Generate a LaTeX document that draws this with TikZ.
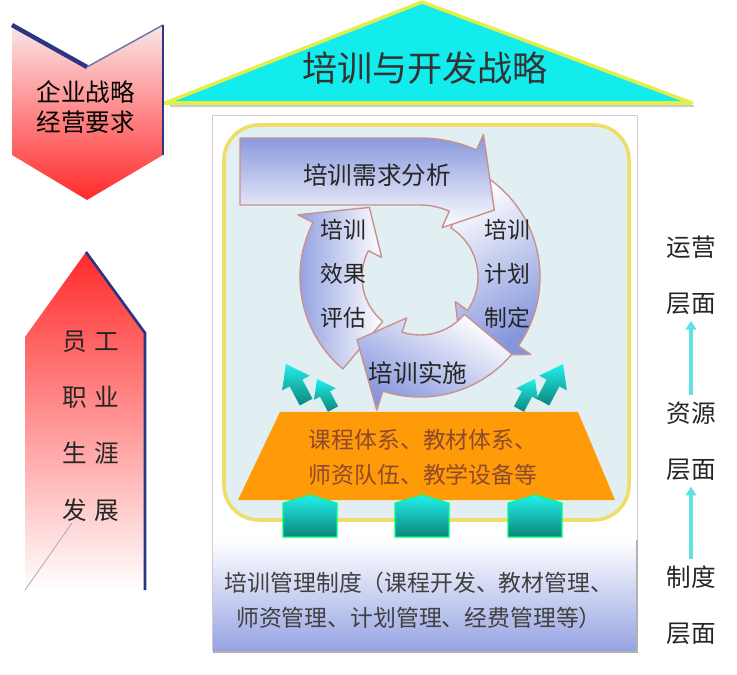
\documentclass[tikz,border=0pt]{standalone}
\usepackage{fontspec}
\setmainfont{Noto Sans CJK SC}
\usetikzlibrary{arrows.meta}
\definecolor{roofcyan}{HTML}{12ECEC}
\definecolor{roofline}{HTML}{E2EE4A}
\definecolor{navyline}{HTML}{2B3580}
\definecolor{chevred}{HTML}{FF2A2A}
\definecolor{chevpink}{HTML}{FBE6E8}
\definecolor{panelblue}{HTML}{E2EFF2}
\definecolor{panelline}{HTML}{EEDD66}
\definecolor{framegray}{HTML}{D6C8CC}
\definecolor{cyclelav}{HTML}{8595DC}
\definecolor{cycleedge}{HTML}{C99090}
\definecolor{baseorange}{HTML}{FF9A08}
\definecolor{basetext}{HTML}{8E4A2C}
\definecolor{tealtop}{HTML}{22F0EC}
\definecolor{tealbot}{HTML}{0C857A}
\definecolor{rulelav}{HTML}{94A2E2}
\definecolor{levelarrow}{HTML}{5EE2E2}
\begin{document}
\begin{tikzpicture}[x=0.02cm, y=-0.02cm,
  cyclearrow/.style={draw=cycleedge, line width=0.8pt, line join=round},
  cycletext/.style={font=\fontsize{13}{25}\selectfont, align=center, text=black!85},
  level/.style={font=\fontsize{14}{32}\selectfont, align=center, text=black!85},
  levelup/.style={levelarrow, line width=2pt, -{Triangle[length=5pt, width=6pt]}},
  pillar/.style={top color=tealtop, bottom color=tealbot, draw=green!50!cyan, line width=0.6pt}]
  \useasboundingbox (0,0) rectangle (737,675);
  % Roof
  \draw[roofline, line width=2pt, fill=roofcyan, line join=round] (165,103) -- (422,2) -- (692,103) -- cycle;
  \draw[gray!40, line width=1pt] (170,106) -- (694,106);
  \node[font=\fontsize{20}{24}\selectfont, text=black!80] (roof) at (425,68) {培训与开发战略};
  % Strategy chevron
  \shade[top color=chevpink, bottom color=chevred] (12,25) -- (87,67) -- (163,25) -- (163,155) -- (87,200) -- (12,155) -- cycle;
  \draw[navyline, line width=2.5pt] (12,25) -- (87,67);
  \draw[navyline!70, line width=0.8pt] (87,67) -- (163,25);
  \draw[navyline, line width=1.5pt] (163,25) -- (163,155);
  \node[font=\fontsize{14}{17}\selectfont, align=center, text=black] (strategy) at (86,107) {企业战略\\经营要求};
  % Career arrow
  \shade[top color=chevred, middle color=chevred!35!white, bottom color=white] (86,252) -- (145,333) -- (145,590) -- (25,590) -- (25,337) -- cycle;
  \draw[navyline, line width=1.5pt] (86,252) -- (145,333) -- (145,590);
  \coordinate (cutA) at (72,523);
  \coordinate (cutB) at (25,590);
  \draw[gray!70, thin] (cutA) -- (cutB);
  \node[level] (career) at (91,426) {员\hspace{4pt}工\\职\hspace{4pt}业\\生\hspace{4pt}涯\\发\hspace{4pt}展};
  % House frame and rule base
  \draw[framegray, fill=white] (212,115) rectangle (637,650);
  \shade[top color=white, bottom color=rulelav] (213,540) rectangle (637,652);
  \draw[gray!60, line width=1pt] (637,540) -- (637,652) -- (215,652);
  \node[font=\fontsize{13}{20}\selectfont, align=center, text=black!75] (rules) at (419,600) {培训管理制度（课程开发、教材管理、\\师资管理、计划管理、经费管理等）};
  % Panel
  \draw[panelline, line width=2pt, fill=panelblue, rounded corners=0.7cm] (224,125) rectangle (629,520);
  % Resource base
  \fill[baseorange] (280,412) -- (578,412) -- (615,500) -- (238,500) -- cycle;
  \node[font=\fontsize{13}{20}\selectfont, align=center, text=basetext] (resource) at (423,457) {课程体系、教材体系、\\师资队伍、教学设备等};
  \foreach \px in {310,422,535}
    \shadedraw[pillar] (\px-27,537) -- (\px-27,503) -- (\px,495) -- (\px+27,503) -- (\px+27,537) -- cycle;
  \foreach \ax/\ay/\ang/\sz in {296/383/28/1.2, 325/394/28/0.95, 527/394/-28/0.95, 553/383/-28/1.2}
    \shade[top color=tealtop, bottom color=tealbot, shift={(\ax,\ay)}, rotate=\ang, scale=\sz]
      (-6,18) -- (-6,0) -- (-13,0) -- (0,-18) -- (13,0) -- (6,0) -- (6,18) -- cycle;
  % Training cycle
  \begin{scope}[shift={(420,277)}]
    \shadedraw[cyclearrow, top color=white, bottom color=cyclelav, shading angle=30]
      (-58:120) arc[start angle=-58, end angle=35, radius=120] -- (35:135) -- (62:89) -- (35:43)
      -- (35:58) arc[start angle=35, end angle=-58, radius=58] -- cycle;
    \shadedraw[cyclearrow, top color=cyclelav, bottom color=white]
      (-180,-139) -- (-90:139) arc[start angle=-90, end angle=-66, radius=139] -- (-66:156) -- (-42:100) -- (-66:54)
      -- (-66:72) arc[start angle=-66, end angle=-90, radius=72] -- (-180,-72) -- cycle;
    \shadedraw[cyclearrow, left color=cyclelav, right color=white]
      (130:120) arc[start angle=130, end angle=207, radius=120] -- (207:137) -- (234:86) -- (207:43)
      -- (207:58) arc[start angle=207, end angle=130, radius=58] -- cycle;
    \shadedraw[cyclearrow, top color=white, bottom color=cyclelav, shading angle=-30]
      (40:120) arc[start angle=40, end angle=108, radius=120] -- (108:140) -- (135:89) -- (108:43)
      -- (108:58) arc[start angle=108, end angle=40, radius=58] -- cycle;
  \end{scope}
  \node[font=\fontsize{14}{17}\selectfont, text=black!85] (needs) at (377,175) {培训需求分析};
  \node[cycletext] (plan) at (507,274) {培训\\计划\\制定};
  \node[font=\fontsize{14}{17}\selectfont, text=black!85] (deliver) at (418,373) {培训实施};
  \node[cycletext] (review) at (343,274) {培训\\效果\\评估};
  % Levels
  \node[level] (yunying) at (691,275) {运营\\层面};
  \node[level] (ziyuan) at (691,441) {资源\\层面};
  \node[level] (zhidu) at (691,605) {制度\\层面};
  \draw[levelup] (ziyuan) -- (yunying);
  \draw[levelup] (zhidu) -- (ziyuan);
\end{tikzpicture}
\end{document}
